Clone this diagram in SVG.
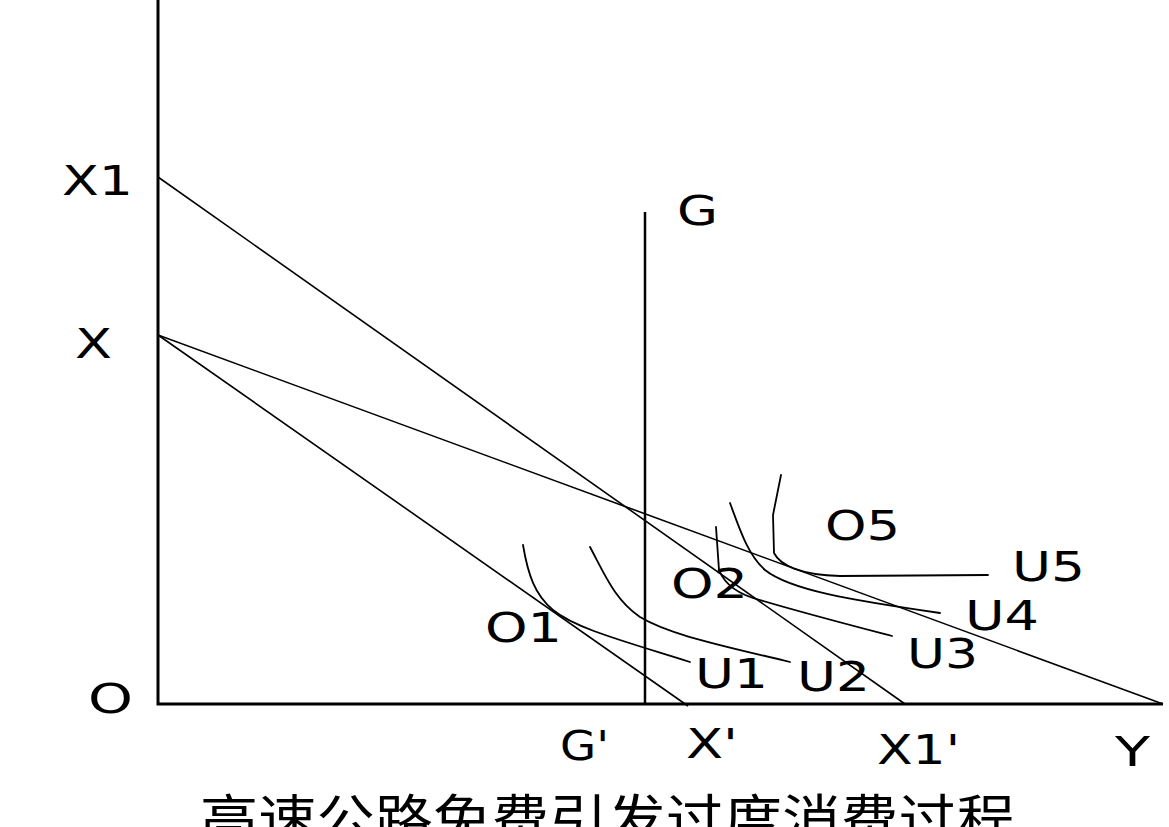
<svg xmlns="http://www.w3.org/2000/svg" width="1169" height="827" viewBox="0 0 1169 827">
<style>
.axis{stroke:#000;stroke-width:3;fill:none}
.ln{stroke:#000;stroke-width:1.6;fill:none}
.cv{stroke:#000;stroke-width:1.8;fill:none;stroke-linecap:round}
.lb{font-family:"DejaVu Sans","Liberation Sans",sans-serif;font-size:41px;fill:#000}
.tt{font-family:"Noto Sans CJK SC",sans-serif;font-size:52px;fill:#000}
</style>
<rect width="1169" height="827" fill="#fff"/>
<g id="axes">
<path class="axis" d="M158,0 V704 H1163"/>
</g>
<g id="connectors">
<path class="ln" d="M158,177 L905,704"/>
<path class="ln" d="M158,335 L688,706"/>
<path class="ln" d="M158,335 L1163,704"/>
<path class="axis" style="stroke-width:2.5" d="M645,212 V704"/>
</g>
<g id="U1"><path class="cv" d="M523,545 C528,575 535,595 553,610 C575,628 620,640 690,662"/><text class="lb" x="695" y="688" textLength="73" lengthAdjust="spacingAndGlyphs">U1</text></g>
<g id="U2"><path class="cv" d="M590,547 C605,575 615,600 640,617 C670,635 720,645 790,662"/><text class="lb" x="797" y="691" textLength="73" lengthAdjust="spacingAndGlyphs">U2</text></g>
<g id="U3"><path class="cv" d="M716,527 L719,570 C725,585 740,595 760,600 C800,612 850,625 892,636"/><text class="lb" x="907" y="668" textLength="71" lengthAdjust="spacingAndGlyphs">U3</text></g>
<g id="U4"><path class="cv" d="M730,503 C740,530 748,555 765,570 C790,590 850,600 940,613"/><text class="lb" x="965" y="630" textLength="74" lengthAdjust="spacingAndGlyphs">U4</text></g>
<g id="U5"><path class="cv" d="M781,475 L773,515 L774,553 C780,565 800,575 840,576 L988,575"/><text class="lb" x="1012" y="581" textLength="73" lengthAdjust="spacingAndGlyphs">U5</text></g>
<g id="labels">
<text class="lb" x="62" y="195" textLength="71" lengthAdjust="spacingAndGlyphs">X1</text>
<text class="lb" x="75" y="358" textLength="37" lengthAdjust="spacingAndGlyphs">X</text>
<text class="lb" x="88" y="713" textLength="45" lengthAdjust="spacingAndGlyphs">O</text>
<text class="lb" x="677" y="225" textLength="41" lengthAdjust="spacingAndGlyphs">G</text>
<text class="lb" x="825" y="540" textLength="75" lengthAdjust="spacingAndGlyphs">O5</text>
<text class="lb" x="671" y="598" textLength="77" lengthAdjust="spacingAndGlyphs">O2</text>
<text class="lb" x="485" y="642" textLength="77" lengthAdjust="spacingAndGlyphs">O1</text>
<text class="lb" x="560" y="760" textLength="49" lengthAdjust="spacingAndGlyphs">G'</text>
<text class="lb" x="686" y="758" textLength="52" lengthAdjust="spacingAndGlyphs">X'</text>
<text class="lb" x="877" y="764" textLength="83" lengthAdjust="spacingAndGlyphs">X1'</text>
<text class="lb" x="1115" y="766" textLength="35" lengthAdjust="spacingAndGlyphs">Y</text>
</g>
<g id="title">
<text class="tt" x="200" y="838" textLength="815" lengthAdjust="spacingAndGlyphs">高速公路免费引发过度消费过程</text>
</g>
</svg>
